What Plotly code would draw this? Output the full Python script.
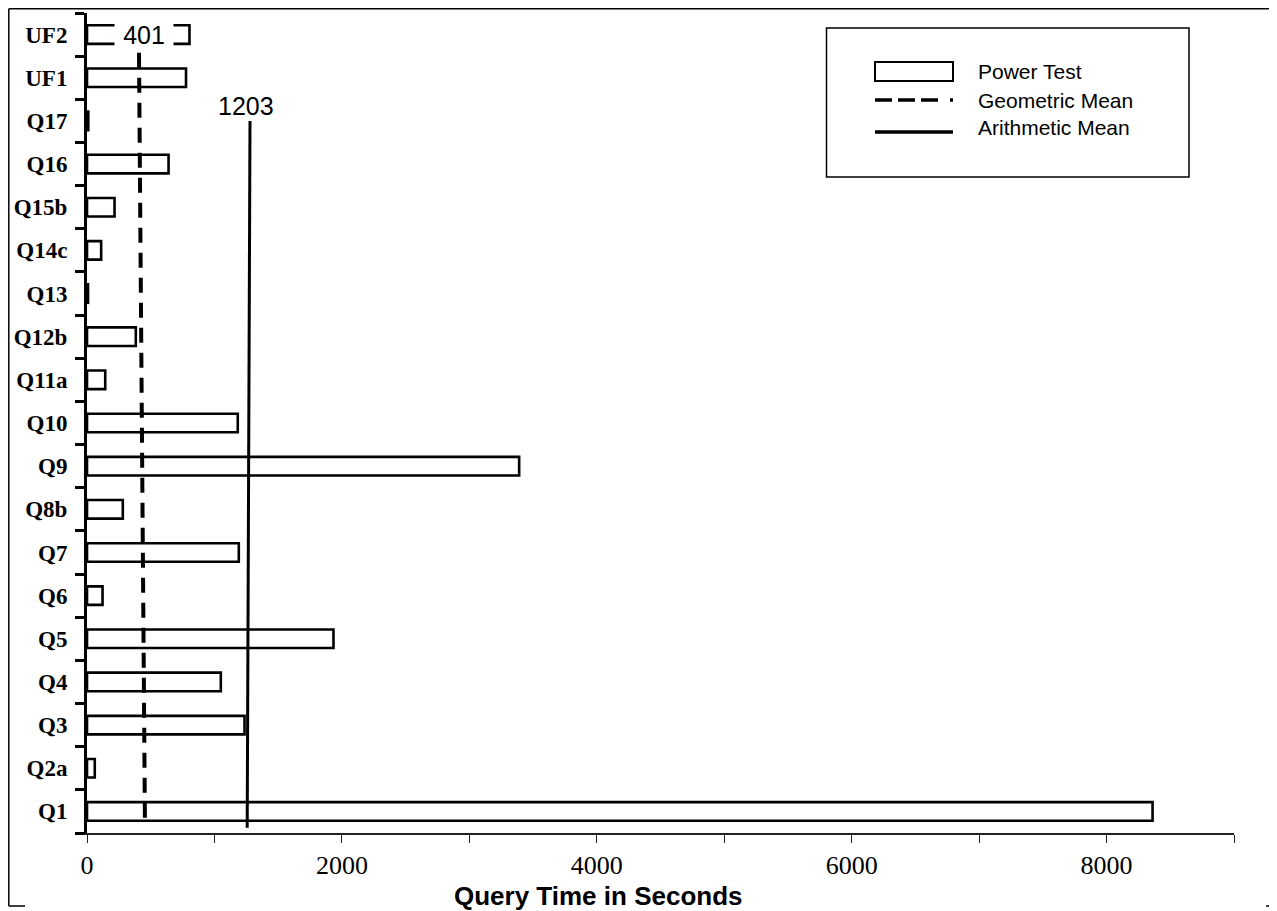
import plotly.graph_objects as go

# ---------------- data ----------------
queries = ["Q1", "Q2a", "Q3", "Q4", "Q5", "Q6", "Q7", "Q8b", "Q9", "Q10",
           "Q11a", "Q12b", "Q13", "Q14c", "Q15b", "Q16", "Q17", "UF1", "UF2"]
power_test = [8361, 61, 1236, 1050, 1934, 122, 1191, 281, 3391, 1183,
              143, 383, 8, 111, 216, 640, 10, 777, 804]

geo_mean_label = "401"
arith_mean_label = "1203"
# mean lines as drawn in the picture (x in seconds, y in category-index units)
geo_line_x = [408, 455]
geo_line_y = [17.58, -0.38]
arith_line_x = [1279, 1257]
arith_line_y = [16.0, -0.38]

x_tickvals = [0, 1000, 2000, 3000, 4000, 5000, 6000, 7000, 8000, 9000]
x_ticktext = ["0", "", "2000", "", "4000", "", "6000", "", "8000", ""]

legend_names = ["Power Test", "Geometric Mean", "Arithmetic Mean"]
x_title = "Query Time in Seconds"

# ---------------- layout helpers ----------------
OFF = 8                      # page body margin of the html page
W, H = 1277 - OFF, 911 - OFF
ML, MT = 87 - OFF, 13 - OFF
PW, PH = 1147, 820
MR, MB = W - ML - PW, H - MT - PH


def px(p):                   # reference-page pixel -> paper x
    return (p - OFF - ML) / PW


def py(p):                   # reference-page pixel -> paper y
    return (MT + PH - (p - OFF)) / PH


SERIF = "Liberation Serif, Times New Roman, serif"
SANS = "Liberation Sans, Arial, sans-serif"

fig = go.Figure()

fig.add_trace(go.Bar(
    y=queries, x=power_test, orientation="h", width=0.43,
    marker=dict(color="white", line=dict(color="black", width=2.6)),
    name=legend_names[0], showlegend=False, hoverinfo="x+y",
))

fig.add_trace(go.Scatter(
    x=geo_line_x, y=geo_line_y, yaxis="y2", mode="lines",
    line=dict(color="black", width=4, dash="15px,10px"),
    name=legend_names[1], showlegend=False,
))
fig.add_trace(go.Scatter(
    x=arith_line_x, y=arith_line_y, yaxis="y2", mode="lines",
    line=dict(color="black", width=3),
    name=legend_names[2], showlegend=False,
))

annotations = [
    dict(x=geo_line_x[0], y=len(queries) - 1, xref="x", yref="y2",
         text=geo_mean_label, showarrow=False, xshift=5,
         font=dict(family=SANS, size=25, color="black"),
         bgcolor="white", width=58, height=28, borderpad=0),
    dict(x=arith_line_x[0], y=arith_line_y[0], xref="x", yref="y2",
         text=arith_mean_label, showarrow=False, yanchor="bottom",
         xshift=-4, yshift=-1,
         font=dict(family=SANS, size=25, color="black")),
    dict(x=px(598), y=py(896), xref="paper", yref="paper",
         text="<b>" + x_title + "</b>", showarrow=False,
         xanchor="center", yanchor="middle",
         font=dict(family=SANS, size=26, color="black")),
]
for name, yc in zip(legend_names, [72, 101, 127]):
    annotations.append(dict(x=px(976), y=py(yc), xref="paper", yref="paper",
                            text=name, showarrow=False, xanchor="left",
                            yanchor="middle",
                            font=dict(family=SANS, size=21, color="black")))


def line_shape(x0, y0, x1, y1, width=1.5, dash=None):
    d = dict(type="line", xref="paper", yref="paper",
             x0=px(x0), y0=py(y0), x1=px(x1), y1=py(y1),
             line=dict(color="black", width=width))
    if dash:
        d["line"]["dash"] = dash
    return d


shapes = [
    # outer frame (partially open at the bottom)
    line_shape(8.8, 8.8, 1272, 8.8),
    line_shape(8.8, 8.8, 8.8, 906),
    line_shape(8.8, 906, 25, 906),
    line_shape(1272, 8.8, 1272, 906),
    line_shape(1266, 906, 1272, 906),
    # legend box
    dict(type="rect", xref="paper", yref="paper",
         x0=px(826.5), y0=py(28), x1=px(1189), y1=py(177),
         line=dict(color="black", width=1.5), fillcolor="white", layer="below"),
    # legend symbols
    dict(type="rect", xref="paper", yref="paper",
         x0=px(875), y0=py(62), x1=px(953), y1=py(81),
         line=dict(color="black", width=2), fillcolor="white"),
    line_shape(875, 100, 953, 100, width=3.5,
               dash="17px,6px,17px,6px,17px,12px,3px,50px"),
    line_shape(875, 132, 953, 132, width=3.5),
]

fig.update_layout(
    width=W, height=H,
    margin=dict(l=ML, r=MR, t=MT, b=MB),
    paper_bgcolor="white", plot_bgcolor="white",
    showlegend=False,
    bargap=0.5,
    xaxis=dict(range=[0, 9000], tickvals=x_tickvals, ticktext=x_ticktext,
               ticks="outside", ticklen=8, tickwidth=1, tickcolor="#222",
               showline=True, linecolor="#222", linewidth=1.5,
               showgrid=False, zeroline=False,
               tickfont=dict(family=SERIF, size=26, color="black")),
    yaxis=dict(type="category", categoryorder="array", categoryarray=queries,
               range=[-0.5, len(queries) - 0.5],
               tickson="boundaries", ticks="outside", ticklen=9,
               tickwidth=2.5, tickcolor="black",
               showline=True, linecolor="black", linewidth=3,
               showgrid=False, zeroline=False, ticklabelstandoff=12,
               tickfont=dict(family=SERIF, size=23, color="black",
                             weight="bold")),
    yaxis2=dict(overlaying="y", range=[-0.5, len(queries) - 0.5],
                visible=False),
    annotations=annotations,
    shapes=shapes,
)

fig.write_html("out.html")
